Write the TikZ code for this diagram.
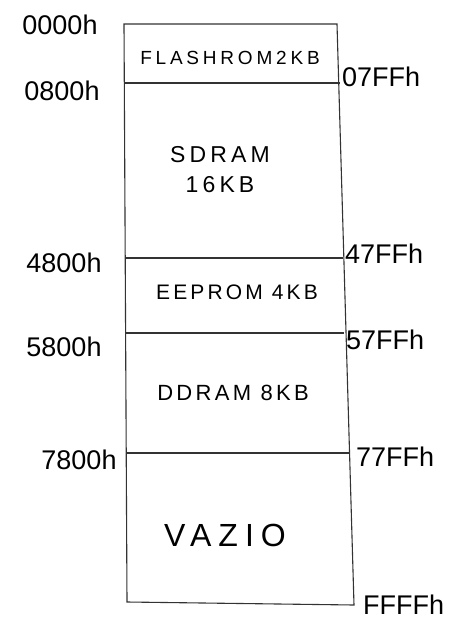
\documentclass[tikz,border=0pt]{standalone}
\usepackage{fontspec}
\setmainfont{Liberation Sans}
\begin{document}
\begin{tikzpicture}
[
	x=1pt,y=-1pt,
	addr/.style={font=\fontsize{27}{29}\selectfont,inner sep=1pt},
	region/.style={align=center},
	memline/.style={line width=1.1pt,black!80}
]
	\useasboundingbox (0,0) rectangle (461,641);

	% block edges
	\coordinate (l0) at (124,24);   \coordinate (r0) at (337,24);
	\coordinate (l1) at (124,83);   \coordinate (r1) at (340,83);
	\coordinate (l2) at (125,258);  \coordinate (r2) at (343,258);
	\coordinate (l3) at (125,333);  \coordinate (r3) at (344,333);
	\coordinate (l4) at (126,453);  \coordinate (r4) at (350,453);
	\coordinate (l5) at (127,602);  \coordinate (r5) at (354,605);

	\draw[memline] (l0) -- (r0) -- (r5) -- (l5) -- cycle;
	\draw[memline] (l1) -- (r1);
	\draw[memline] (l2) -- (r2);
	\draw[memline] (l3) -- (r3);
	\draw[memline] (l4) -- (r4);

	% regions
	\node[region,font=\fontsize{19}{24}\selectfont\addfontfeature{LetterSpace=20}] (flash) at (230,58) {FLASHROM2KB};
	\node[region,font=\fontsize{23}{30}\selectfont\addfontfeature{LetterSpace=18}] (sdram) at (220,170) {SDRAM\\16KB};
	\node[region,font=\fontsize{21}{26}\selectfont\addfontfeature{LetterSpace=15}] (eeprom) at (237,292) {EEPROM 4KB};
	\node[region,font=\fontsize{22}{26}\selectfont\addfontfeature{LetterSpace=15}] (ddram) at (233,393) {DDRAM 8KB};
	\node[region,font=\fontsize{32}{36}\selectfont\addfontfeature{LetterSpace=22}] (vazio) at (225,535) {VAZIO};

	% start addresses
	\node[addr] (s0) at (60,25) {0000h};
	\node[addr] (s1) at (62,91) {0800h};
	\node[addr] (s2) at (64,263) {4800h};
	\node[addr] (s3) at (64,347) {5800h};
	\node[addr] (s4) at (79,460) {7800h};

	% end addresses
	\node[addr,anchor=west] (e1) at (341,77) {07FFh};
	\node[addr,anchor=west] (e2) at (344,254) {47FFh};
	\node[addr,anchor=west] (e3) at (345,340) {57FFh};
	\node[addr,anchor=west] (e4) at (355,457) {77FFh};
	\node[addr,anchor=west] (e5) at (362,605) {FFFFh};

\end{tikzpicture}
\end{document}
